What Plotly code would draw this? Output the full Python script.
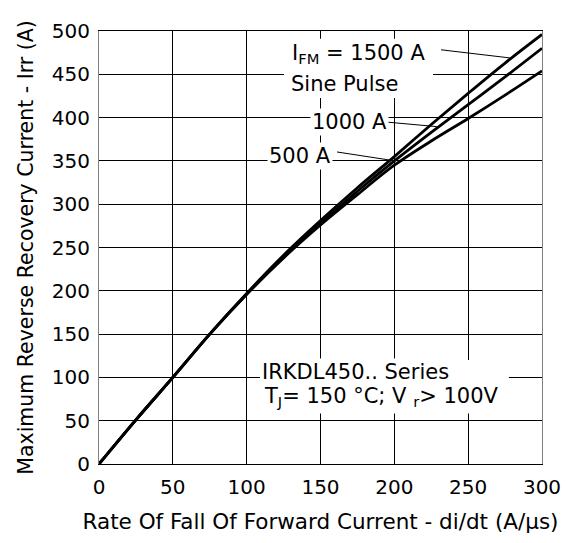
import plotly.graph_objects as go

di_dt = [0, 25, 50, 75, 100, 125, 150, 175, 200, 225, 250, 275, 300]
irr_1500 = [0, 51, 100, 150, 197, 241, 281, 319, 355, 392, 428, 463, 496]
irr_1000 = [0, 51, 100, 150, 196, 239, 278, 315, 350, 383, 415, 447, 480]
irr_500 = [0, 51, 100, 150, 196, 238, 276, 311, 345, 373, 399, 426, 454]

x_ticks = [0, 50, 100, 150, 200, 250, 300]
y_ticks = [0, 50, 100, 150, 200, 250, 300, 350, 400, 450, 500]

FONT = "DejaVu Sans, sans-serif"

fig = go.Figure()
for ys in (irr_500, irr_1000, irr_1500):
    fig.add_trace(go.Scatter(x=di_dt, y=ys, mode="lines",
                             line=dict(color="black", width=2.8, shape="spline", smoothing=1.0),
                             showlegend=False, hoverinfo="skip"))

# white backgrounds of the text blocks (hide gridlines, drawn below traces)
fig.add_shape(type="rect", x0=125.3, x1=226.2, y0=422.5, y1=491, xref="x", yref="y",
              layer="between", fillcolor="white", line=dict(width=0))
fig.add_shape(type="rect", x0=109, x1=277.6, y0=58.4, y1=120.2, xref="x", yref="y",
              layer="between", fillcolor="white", line=dict(width=0))

# leader lines
leaders = [
    ((231.6, 478.3), (278.3, 468.9)),
    ((195.7, 394.7), (228.7, 389.6)),
    ((161.2, 360.3), (197.1, 350.9)),
]
for (x0, y0), (x1, y1) in leaders:
    fig.add_shape(type="line", x0=x0, y0=y0, x1=x1, y1=y1, xref="x", yref="y",
                  line=dict(color="black", width=1))

def ann(text, x, y, size=21):
    fig.add_annotation(text=text, x=x, y=y, xref="x", yref="y", showarrow=False,
                       xanchor="left", yanchor="middle", bgcolor="white", align="left",
                       borderpad=1, font=dict(family=FONT, size=size, color="black"))

ann("I<sub>FM</sub> = 1500 A", 129.3, 474)
ann("Sine Pulse", 128.6, 439)
ann("1000 A", 142.9, 395.5)
ann("500 A", 113.8, 356)
ann("IRKDL450.. Series", 109, 106)
ann("T<sub>J</sub>= 150 °C; V <sub>r</sub>> 100V", 110.4, 77)

fig.update_layout(
    width=571, height=535,
    margin=dict(l=91, r=37, t=11, b=79),
    paper_bgcolor="white", plot_bgcolor="white",
    font=dict(family=FONT, size=20, color="black"),
    xaxis=dict(range=[0, 300], tickvals=x_ticks, ticktext=[str(v) for v in x_ticks],
               showgrid=True, gridcolor="black", gridwidth=1, zeroline=False,
               showline=True, linecolor="black", linewidth=1, mirror=True,
               ticks="outside", ticklen=5, tickcolor="rgba(0,0,0,0)",
               ticklabeloverflow="allow",
               title=dict(text="Rate Of Fall Of Forward Current - di/dt (A/µs)", standoff=15,
                          font=dict(size=21.5))),
    yaxis=dict(range=[0, 500], tickvals=y_ticks, ticktext=[str(v) for v in y_ticks],
               showgrid=True, gridcolor="black", gridwidth=1, zeroline=False,
               showline=True, linecolor="#808080", linewidth=1, mirror=True,
               ticks="outside", ticklen=4, tickcolor="rgba(0,0,0,0)",
               ticklabeloverflow="allow",
               title=dict(text="Maximum Reverse Recovery Current - Irr (A)", standoff=12,
                          font=dict(size=20.5))),
)

fig.write_html("out.html")
